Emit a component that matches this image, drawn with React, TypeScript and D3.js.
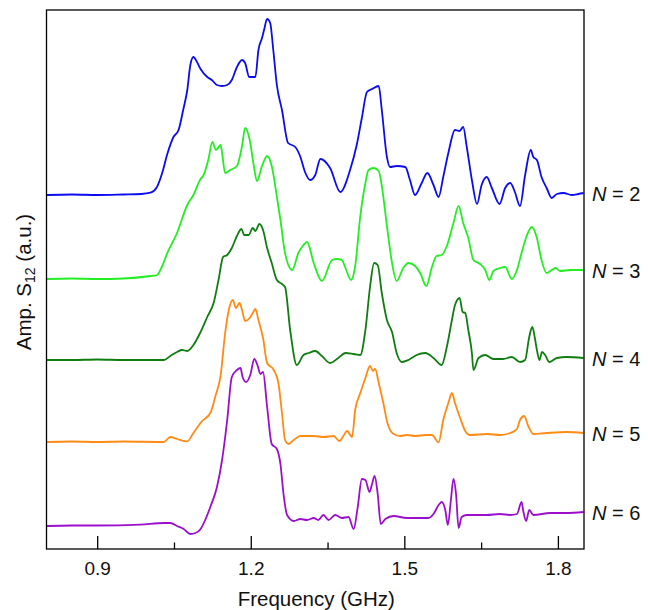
import React from "react";
import * as d3 from "d3";

// Frequency axis
const xDomain: [number, number] = [0.8, 1.85];
const majorTicks = [0.9, 1.2, 1.5, 1.8];
const minorTicks = [1.05, 1.35, 1.65];
const yDomain: [number, number] = [0, 53.9];

const seriesNames = ["N = 2", "N = 3", "N = 4", "N = 5", "N = 6"];
const seriesN = ["2", "3", "4", "5", "6"];
const seriesOffsets = [35.4, 27.0, 18.9, 10.7, 2.3];
const seriesColors = ["#0b0bf0", "#22ee22", "#0f7d0f", "#ff8a14", "#9b0fcc"];

// [frequency GHz, amplitude a.u. relative to trace baseline]
const traceN2: [number, number][] = [
  [0.8, 0], [0.85, 0.05], [0.9, 0], [0.95, 0.05], [0.985, 0.1], [1.003, 0.23], [1.016, 0.83],
  [1.026, 2.2], [1.036, 4.1], [1.048, 5.8], [1.058, 6.5], [1.067, 8.5], [1.075, 10.5],
  [1.081, 13.0], [1.087, 13.8], [1.094, 13.3], [1.101, 12.6], [1.114, 11.8], [1.123, 11.5],
  [1.133, 11.0], [1.143, 10.9], [1.153, 11.0], [1.162, 11.5], [1.172, 12.8], [1.182, 13.5],
  [1.188, 13.2], [1.196, 11.8], [1.208, 11.8], [1.214, 14.5], [1.221, 15.7], [1.225, 16.5],
  [1.231, 17.6], [1.237, 17.2], [1.243, 14.5], [1.25, 11.0], [1.26, 8.5], [1.272, 5.2],
  [1.286, 4.8], [1.296, 3.8], [1.305, 2.3], [1.315, 1.5], [1.325, 2.0], [1.335, 3.6],
  [1.354, 2.7], [1.374, 0.3], [1.393, 2.5], [1.406, 5.0], [1.416, 7.7], [1.426, 10.3],
  [1.436, 10.6], [1.449, 10.9], [1.455, 8.5], [1.465, 3.8], [1.471, 2.8], [1.484, 2.9],
  [1.501, 2.8], [1.51, 1.5], [1.52, 0.0], [1.533, 1.2], [1.544, 2.2], [1.556, 1.0],
  [1.566, -0.2], [1.575, 1.8], [1.585, 4.2], [1.598, 6.5], [1.607, 6.4], [1.614, 6.8],
  [1.621, 4.8], [1.631, 1.5], [1.641, -0.9], [1.65, 1.0], [1.66, 1.8], [1.67, 0.7],
  [1.685, -0.9], [1.696, 0.7], [1.706, 1.2], [1.715, 0.3], [1.725, -1.1], [1.735, 2.0],
  [1.746, 4.5], [1.751, 3.8], [1.758, 3.5], [1.767, 1.8], [1.777, 0.7], [1.787, -0.3],
  [1.797, 0.1], [1.81, 0.2], [1.826, 0.0], [1.839, 0.1], [1.849, 0.2],
];

const traceN3: [number, number][] = [
  [0.8, 0], [0.85, 0.05], [0.9, 0], [0.95, 0.05], [1.003, 0.3], [1.016, 0.4], [1.026, 1.3],
  [1.036, 2.6], [1.055, 4.6], [1.075, 7.4], [1.087, 8.4], [1.101, 10.0], [1.106, 10.3],
  [1.116, 11.9], [1.124, 13.7], [1.131, 12.9], [1.14, 13.4], [1.143, 12.6], [1.149, 10.6],
  [1.159, 10.9], [1.172, 11.3], [1.182, 13.3], [1.188, 15.1], [1.197, 13.9], [1.205, 11.3],
  [1.211, 9.8], [1.221, 11.3], [1.231, 12.3], [1.24, 11.3], [1.251, 7.9], [1.257, 5.9],
  [1.266, 2.6], [1.28, 0.9], [1.292, 2.6], [1.302, 3.4], [1.309, 3.7], [1.322, 1.6],
  [1.338, -0.2], [1.358, 1.9], [1.367, 2.0], [1.377, 1.9], [1.384, 1.1], [1.395, -0.1],
  [1.403, 1.3], [1.413, 6.3], [1.423, 9.6], [1.429, 10.9], [1.439, 11.1], [1.449, 10.8],
  [1.455, 9.3], [1.466, 4.9], [1.475, 1.6], [1.484, -0.2], [1.497, 1.1], [1.507, 1.6],
  [1.52, 1.3], [1.53, 0.6], [1.542, -0.7], [1.553, 1.2], [1.562, 2.3], [1.572, 2.4],
  [1.582, 3.3], [1.595, 5.6], [1.605, 7.3], [1.614, 5.6], [1.624, 4.1], [1.634, 1.9],
  [1.647, 1.5], [1.657, 0.9], [1.665, -0.1], [1.673, 0.8], [1.686, 1.1], [1.696, 1.2],
  [1.709, 0.0], [1.719, 0.9], [1.728, 2.6], [1.738, 4.3], [1.748, 5.2], [1.758, 4.1],
  [1.767, 1.9], [1.777, 0.6], [1.787, 0.9], [1.795, 1.1], [1.803, 0.8], [1.823, 0.9],
  [1.849, 0.9],
];

const traceN4: [number, number][] = [
  [0.8, 0], [0.85, 0], [0.9, 0.05], [0.95, 0], [1.029, 0], [1.042, 0.4], [1.055, 0.8],
  [1.065, 1.0], [1.075, 0.9], [1.087, 1.5], [1.101, 2.8], [1.114, 4.3], [1.127, 5.8],
  [1.136, 8.0], [1.145, 10.3], [1.153, 10.5], [1.162, 11.2], [1.172, 12.4], [1.181, 13.1],
  [1.186, 12.5], [1.195, 12.5], [1.203, 13.2], [1.208, 12.9], [1.216, 13.6], [1.223, 13.0],
  [1.231, 11.2], [1.24, 9.7], [1.25, 8.0], [1.26, 7.6], [1.266, 7.3], [1.276, 3.0],
  [1.289, -0.5], [1.302, 0.5], [1.312, 0.7], [1.325, 0.9], [1.338, 0.4], [1.354, -0.3],
  [1.37, 0.2], [1.384, 0.7], [1.4, 0.6], [1.413, 0.5], [1.423, 3.0], [1.432, 7.3],
  [1.44, 9.7], [1.447, 9.5], [1.455, 6.7], [1.465, 4.0], [1.475, 2.8], [1.484, 0.7],
  [1.494, -0.2], [1.507, 0.0], [1.523, 0.5], [1.54, 0.7], [1.556, 0.2], [1.572, -0.5],
  [1.582, 1.3], [1.592, 4.0], [1.598, 5.5], [1.607, 6.2], [1.613, 4.8], [1.618, 4.7],
  [1.624, 3.0], [1.631, 0.7], [1.634, -1.0], [1.644, 0.2], [1.657, 0.5], [1.673, 0.1],
  [1.692, 0.1], [1.709, 0.3], [1.725, -0.2], [1.735, 0.0], [1.743, 2.3], [1.749, 3.3],
  [1.754, 2.2], [1.758, 1.0], [1.763, 0.0], [1.768, 0.8], [1.774, 0.5], [1.782, -0.2],
  [1.797, 0.2], [1.816, 0.3], [1.849, 0.2],
];

const traceN5: [number, number][] = [
  [0.8, 0], [0.85, 0.05], [0.9, 0], [0.95, 0.05], [1.029, 0], [1.042, 0.5], [1.055, 0.3],
  [1.075, 0.06], [1.087, 0.9], [1.104, 2.1], [1.12, 2.9], [1.13, 4.6], [1.14, 6.6],
  [1.149, 10.9], [1.157, 13.4], [1.164, 14.2], [1.17, 13.4], [1.177, 13.9], [1.182, 13.2],
  [1.188, 12.1], [1.197, 12.4], [1.203, 12.9], [1.208, 13.3], [1.214, 12.2], [1.223, 10.4],
  [1.231, 7.9], [1.244, 7.2], [1.253, 5.9], [1.26, 2.9], [1.266, 0.2], [1.273, -0.2],
  [1.283, 0.2], [1.296, 0.6], [1.322, 0.6], [1.341, 0.5], [1.361, 0.6], [1.372, 0.1],
  [1.38, 0.6], [1.387, 1.1], [1.397, 0.5], [1.403, 3.2], [1.413, 4.9], [1.423, 6.4],
  [1.432, 7.6], [1.438, 7.1], [1.442, 7.3], [1.449, 5.9], [1.458, 3.9], [1.466, 1.9],
  [1.478, 0.8], [1.491, 0.6], [1.504, 0.7], [1.52, 0.6], [1.54, 0.7], [1.553, 0.7],
  [1.566, -0.04], [1.575, 2.2], [1.585, 3.9], [1.592, 4.9], [1.598, 3.9], [1.608, 2.4],
  [1.618, 1.1], [1.627, 0.7], [1.66, 0.8], [1.686, 0.7], [1.706, 0.9], [1.719, 1.3],
  [1.725, 2.2], [1.733, 2.6], [1.741, 1.6], [1.751, 0.8], [1.777, 0.9], [1.816, 1.0],
  [1.849, 0.9],
];

const traceN6: [number, number][] = [
  [0.8, 0], [0.85, 0.05], [0.9, 0.05], [0.983, 0.14], [1.029, 0.3], [1.042, 0.3],
  [1.055, 0.0], [1.068, -0.3], [1.081, -0.8], [1.091, -0.7], [1.101, -0.3], [1.11, 0.6],
  [1.12, 1.9], [1.133, 3.9], [1.143, 6.6], [1.153, 10.6], [1.162, 14.9], [1.172, 15.6],
  [1.179, 15.8], [1.183, 14.9], [1.19, 14.4], [1.198, 15.1], [1.206, 16.7], [1.212, 16.1],
  [1.218, 15.2], [1.223, 15.4], [1.231, 11.9], [1.24, 8.2], [1.25, 7.7], [1.257, 6.2],
  [1.263, 3.2], [1.27, 1.1], [1.283, 0.5], [1.296, 0.7], [1.309, 0.6], [1.322, 0.8],
  [1.331, 0.6], [1.341, 1.1], [1.351, 0.6], [1.364, 1.1], [1.377, 0.8], [1.39, 0.9],
  [1.4, -0.3], [1.408, 1.9], [1.416, 4.7], [1.423, 4.6], [1.431, 3.4], [1.436, 4.2],
  [1.441, 5.0], [1.447, 3.2], [1.453, 0.2], [1.462, 0.7], [1.478, 1.0], [1.504, 0.8],
  [1.53, 0.8], [1.546, 0.8], [1.556, 1.2], [1.566, 2.1], [1.572, 2.4], [1.579, 1.6],
  [1.584, 0.1], [1.59, 2.6], [1.595, 4.7], [1.6, 3.2], [1.605, -0.2], [1.611, 0.9],
  [1.621, 1.1], [1.66, 1.1], [1.686, 1.2], [1.706, 1.1], [1.719, 1.2], [1.728, 2.4],
  [1.731, 1.6], [1.737, 0.5], [1.743, 1.6], [1.751, 1.1], [1.784, 1.3], [1.816, 1.3],
  [1.849, 1.4],
];

const traces = [traceN2, traceN3, traceN4, traceN5, traceN6];

const W = 648;
const H = 610;
const plot = { left: 46.5, right: 584, top: 10, bottom: 549 };
const FONT = "'Liberation Sans', Arial, Helvetica, sans-serif";

export default function App() {
  const x = d3.scaleLinear().domain(xDomain).range([plot.left, plot.right]);
  const y = d3.scaleLinear().domain(yDomain).range([plot.bottom, plot.top]);

  const line = (offset: number) =>
    d3
      .line<[number, number]>()
      .x((d) => x(d[0]))
      .y((d) => y(d[1] + offset))
      .curve(d3.curveMonotoneX);

  return (
    <svg
      width={W}
      height={H}
      style={{ position: "absolute", left: 0, top: 0, background: "#fff" }}
      fontFamily={FONT}
    >
      <defs>
        <clipPath id="plotclip">
          <rect x={plot.left} y={plot.top} width={plot.right - plot.left} height={plot.bottom - plot.top} />
        </clipPath>
      </defs>
      <g clipPath="url(#plotclip)">
        {traces.map((t, i) => (
          <path
            key={i}
            d={line(seriesOffsets[i])(t) || ""}
            fill="none"
            stroke={seriesColors[i]}
            strokeWidth={1.8}
            strokeLinejoin="round"
          />
        ))}
      </g>
      {/* frame */}
      <rect
        x={plot.left}
        y={plot.top}
        width={plot.right - plot.left}
        height={plot.bottom - plot.top}
        fill="none"
        stroke="#000"
        strokeWidth={1.3}
      />
      {/* x ticks */}
      {majorTicks.map((t) => (
        <g key={"M" + t}>
          <line x1={x(t)} x2={x(t)} y1={plot.bottom} y2={plot.bottom - 13} stroke="#000" strokeWidth={1.3} />
          <text x={x(t)} y={575} textAnchor="middle" fontSize={19} fill="#111">
            {t.toFixed(1)}
          </text>
        </g>
      ))}
      {minorTicks.map((t) => (
        <line key={"m" + t} x1={x(t)} x2={x(t)} y1={plot.bottom} y2={plot.bottom - 6.5} stroke="#000" strokeWidth={1.3} />
      ))}
      <text x={(plot.left + plot.right) / 2 + 1} y={606} textAnchor="middle" fontSize={20.5} fill="#111">
        Frequency (GHz)
      </text>
      <text transform={`translate(31,282) rotate(-90)`} textAnchor="middle" fontSize={20.5} fill="#111">
        Amp. S<tspan fontSize={14} dy={4}>12</tspan>
        <tspan dy={-4}> (a.u.)</tspan>
      </text>
      {/* series labels */}
      {seriesN.map((n, i) => {
        const t = traces[i];
        const last = t[t.length - 1];
        return (
          <text
            key={seriesNames[i]}
            x={plot.right + 8}
            y={y(last[1] + seriesOffsets[i]) + 7.5}
            fontSize={20}
            fill="#111"
          >
            <tspan fontStyle="italic">N</tspan> = {n}
          </text>
        );
      })}
    </svg>
  );
}
